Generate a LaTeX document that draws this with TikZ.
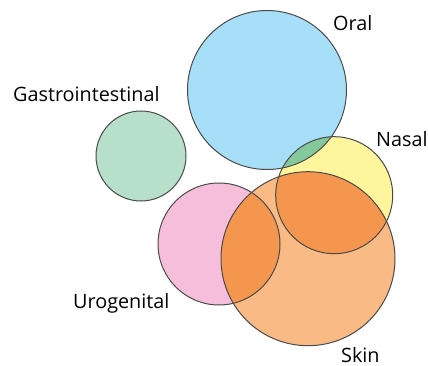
\documentclass[tikz,border=0pt]{standalone}
\usepackage{fontspec}
\setmainfont{Open Sans}
\definecolor{oralc}{HTML}{A6DFF7}
\definecolor{gic}{HTML}{B7E0CA}
\definecolor{nasalc}{HTML}{FFF59D}
\definecolor{uroc}{HTML}{F6BEDB}
\definecolor{skinc}{HTML}{F9BA85}
\definecolor{darkor}{HTML}{F5964F}
\definecolor{greenov}{HTML}{84C99C}
\definecolor{edgec}{HTML}{4A4A4A}
\begin{document}
\begin{tikzpicture}[x=1pt,y=-1pt,
  ring/.style={draw=edgec,line width=1pt},
  lbl/.style={font=\fontsize{19.8}{22}\selectfont,anchor=base west,inner sep=0pt,text=black}]
\useasboundingbox (0,0) rectangle (428,366);
% coordinates
\coordinate (oral) at (267,90);
\coordinate (gi) at (141,156);
\coordinate (nasal) at (334.2,195.2);
\coordinate (uro) at (219,244);
\coordinate (skin) at (308,258.7);
% fills
\fill[oralc] (oral) circle (79.5);
\fill[gic] (gi) circle (45);
\fill[nasalc] (nasal) circle (58.5);
\fill[uroc] (uro) circle (61);
\fill[skinc] (skin) circle (87);
% overlaps
\begin{scope}
  \clip (oral) circle (79.5);
  \fill[greenov] (nasal) circle (58.5);
\end{scope}
\begin{scope}
  \clip (skin) circle (87);
  \fill[darkor] (nasal) circle (58.5);
  \fill[darkor] (uro) circle (61);
\end{scope}
% outlines
\draw[ring] (oral) circle (79.5);
\draw[ring] (gi) circle (45);
\draw[ring] (nasal) circle (58.5);
\draw[ring] (uro) circle (61);
\draw[ring] (skin) circle (87);
% labels
\node[lbl] (loral) at (333,31) {Oral};
\node[lbl] (lgi) at (13,102) {Gastrointestinal};
\node[lbl] (lnasal) at (376,147) {Nasal};
\node[lbl] (luro) at (73,308) {Urogenital};
\node[lbl] (lskin) at (341,362) {Skin};
\end{tikzpicture}
\end{document}
